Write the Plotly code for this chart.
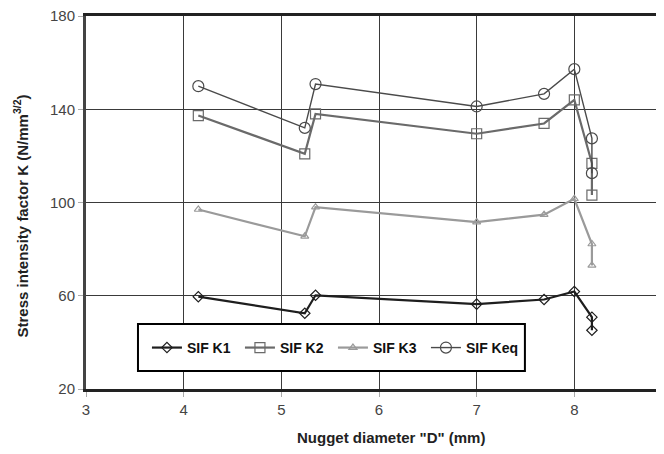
import plotly.graph_objects as go

x_k1 = [4.15, 5.24, 5.35, 7.0, 7.69, 8.0, 8.18, 8.18]
k1 = [59.6, 52.5, 60.2, 56.4, 58.4, 61.8, 50.8, 45.2]
x_k2 = [4.15, 5.24, 5.35, 7.0, 7.69, 8.0, 8.18, 8.18]
k2 = [137.3, 120.9, 138.0, 129.5, 133.9, 144.0, 116.8, 103.2]
x_k3 = [4.15, 5.24, 5.35, 7.0, 7.69, 8.0, 8.18, 8.18]
k3 = [97.0, 85.5, 98.0, 91.6, 94.8, 101.6, 82.2, 73.0]
x_keq = [4.15, 5.24, 5.35, 7.0, 7.69, 8.0, 8.18, 8.18]
keq = [149.9, 132.0, 150.8, 141.2, 146.6, 157.2, 127.5, 112.6]

names = ["SIF K1", "SIF K2", "SIF K3", "SIF Keq"]
y_ticks = [20, 60, 100, 140, 180]
x_ticks = [3, 4, 5, 6, 7, 8]

fig = go.Figure()
styles = [
    (x_k1, k1, names[0], "#1e1e1e", 2.2, "diamond-open", 8),
    (x_k2, k2, names[1], "#6a6a6a", 2.2, "square-open", 10),
    (x_k3, k3, names[2], "#9a9a9a", 2.2, "triangle-up-open", 7),
    (x_keq, keq, names[3], "#4a4a4a", 1.4, "circle-open", 11),
]
for xs, ys, nm, col, lw, sym, ms in styles:
    fig.add_trace(go.Scatter(
        x=xs, y=ys, name=nm, mode="lines+markers",
        line=dict(color=col, width=lw),
        marker=dict(symbol=sym, size=ms, color=col, line=dict(width=1.2, color=col)),
    ))

fig.update_layout(
    width=664, height=454,
    margin=dict(l=78, r=0, t=8, b=73),
    paper_bgcolor="white", plot_bgcolor="white",
    font=dict(family="Liberation Sans, Arial, sans-serif", color="#333"),
    showlegend=True,
    legend=dict(
        orientation="h", x=0.104, y=0.110, xanchor="left", yanchor="middle",
        bgcolor="rgba(0,0,0,0)", borderwidth=0,
        font=dict(size=14, color="#111", family="Liberation Sans Narrow, Liberation Sans, Arial", weight="bold"),
        entrywidth=48, entrywidthmode="pixels", itemwidth=30,
        tracegroupgap=0,
    ),
    shapes=[
        dict(type="rect", xref="paper", yref="paper", x0=0.0887, x1=0.749, y0=0.048, y1=0.174,
             fillcolor="white", line=dict(color="black", width=2), layer="above"),
    ],
    xaxis=dict(
        range=[3, 9], tickvals=x_ticks, showgrid=True, gridcolor="#3a3a3a", gridwidth=1.3,
        showline=True, linecolor="#222", linewidth=3, mirror=True,
        ticks="outside", ticklen=5, tickcolor="#aaa", tickwidth=1,
        tickfont=dict(size=15, color="#444"), zeroline=False, ticklabeloverflow="allow",
    ),
    yaxis=dict(
        range=[20, 180], tickvals=y_ticks, showgrid=True, gridcolor="#3a3a3a", gridwidth=1.3,
        showline=True, linecolor="#444", linewidth=3,
        ticks="outside", ticklen=5, tickcolor="#aaa", tickwidth=1,
        tickfont=dict(size=15, color="#444"), zeroline=False, ticklabeloverflow="allow",
    ),
    annotations=[
        dict(text="<b>Stress intensity factor K (N/mm<sup>3/2</sup>)</b>", xref="paper", yref="paper",
             x=0, y=0.5, xshift=-65, yshift=-14, textangle=-90, showarrow=False,
             xanchor="center", yanchor="middle",
             font=dict(size=15, color="#222")),
        dict(text="<b>Nugget diameter \"D\" (mm)</b>", xref="paper", yref="paper",
             x=0, y=0, xshift=305, yshift=-48, showarrow=False, xanchor="center", yanchor="middle",
             font=dict(size=15, color="#222", family="Liberation Sans Narrow, Liberation Sans, Arial")),
    ],
)

fig.write_html("out.html")
